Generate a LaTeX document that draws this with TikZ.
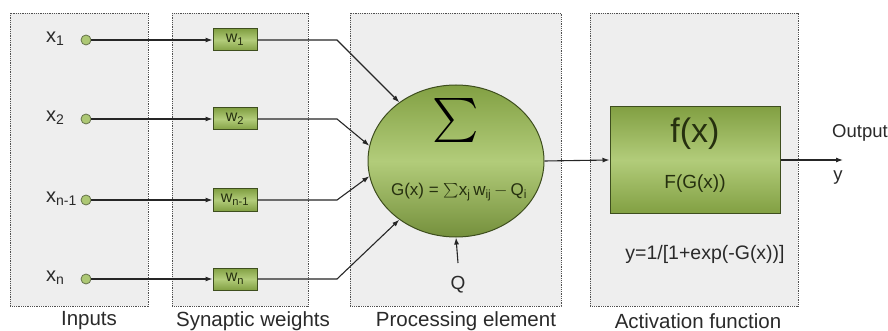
\documentclass[tikz,border=0pt]{standalone}
\usepackage{fontspec}
\usepackage{graphicx}
\setmainfont{Liberation Sans}
\usetikzlibrary{arrows.meta,shapes.geometric}
\definecolor{panel}{HTML}{EEEEEE}
\definecolor{dotc}{HTML}{505050}
\definecolor{gdark}{HTML}{82A043}
\definecolor{glight}{HTML}{B2CC7A}
\definecolor{gedge}{HTML}{3E4E1E}
\definecolor{txt}{HTML}{2A2A2A}
\definecolor{gtxt}{HTML}{26300F}
\tikzset{
  x=1pt, y=-1pt,
  panelbox/.style={fill=panel, draw=dotc, line width=0.9pt, dash pattern=on 0.9pt off 0.9pt},
  wbox/.style={draw=gedge, line width=1pt, top color=gdark, bottom color=gdark, middle color=glight,
    minimum width=44pt, minimum height=22pt, inner sep=0pt, text=gtxt, font=\fontsize{16}{16}\selectfont},
  inpt/.style={circle, draw=gedge!80, line width=0.8pt, fill=glight!90!gdark, minimum size=10pt, inner sep=0pt},
  xlab/.style={anchor=west, inner sep=0pt, text=txt, font=\fontsize{20}{20}\selectfont},
  caption/.style={inner sep=0pt, text=txt, font=\fontsize{20.5}{20.5}\selectfont},
  conn/.style={draw=black!85, line width=1.1pt},
  tip/.style={-{Latex[length=7pt,width=5pt]}},
}
\begin{document}
\begin{tikzpicture}
\useasboundingbox (0,0) rectangle (888,331);
\fill[white] (0,0) rectangle (888,331);
% panels
\draw[panelbox] (10,13) rectangle (148,306);
\draw[panelbox] (172,13) rectangle (308,306);
\draw[panelbox] (350,13) rectangle (561,306);
\draw[panelbox] (590,13) rectangle (798,306);
% captions
\node[caption] (capin) at (89,321) {Inputs};
\node[caption] (capsw) at (253,321) {Synaptic weights};
\node[caption] (cappe) at (466,321) {Processing element};
\node[caption] (capaf) at (698,321) {Activation function};
% inputs
\node[inpt] (i1) at (86,40) {};
\node[inpt] (i2) at (86,119) {};
\node[inpt] (i3) at (86,200) {};
\node[inpt] (i4) at (86,279) {};
\node[xlab] (l1) at (46,39) {x\textsubscript{1}};
\node[xlab] (l2) at (46,118) {x\textsubscript{2}};
\node[xlab] (l3) at (46,199) {x\textsubscript{n-1}};
\node[xlab] (l4) at (46,278) {x\textsubscript{n}};
% weights
\node[wbox] (w1) at (235,40) {w\textsubscript{1}};
\node[wbox] (w2) at (235,119) {w\textsubscript{2}};
\node[wbox] (w3) at (235,200) {w\textsubscript{n-1}};
\node[wbox] (w4) at (235,279) {w\textsubscript{n}};
% processing ellipse
\node[ellipse, draw=gedge, line width=1pt, top color=gdark, bottom color=gdark!90!black, middle color=glight,
  minimum width=176pt, minimum height=152pt, inner sep=0pt] (E) at (456,161) {};
\node[scale=4.4, text=black] (sig) at (456,121) {$\sum$};
\node[inner sep=0pt, text=gtxt, font=\fontsize{17}{17}\selectfont] (gx) at (459,192)
  {G(x) = \raisebox{-1pt}{\scalebox{1.45}{$\sum$}}x\textsubscript{j}\,w\textsubscript{ij}$\,-\,$Q\textsubscript{i}};
\node[inner sep=0pt, text=txt, font=\fontsize{19}{19}\selectfont] (Q) at (458,285) {Q};
% activation box
\node[draw=gedge, line width=1pt, top color=gdark, bottom color=gdark, middle color=glight,
  minimum width=170pt, minimum height=106pt, inner sep=0pt] (A) at (695,160) {};
\node[inner sep=0pt, text=gtxt, font=\fontsize{34}{34}\selectfont] (fx) at (695,134) {f(x)};
\node[inner sep=0pt, text=gtxt, font=\fontsize{19}{19}\selectfont] (FG) at (695,184) {F(G(x))};
\node[inner sep=0pt, text=txt, font=\fontsize{19.5}{19.5}\selectfont] (yeq) at (705,254) {y=1/[1+exp(-G(x))]};
\node[inner sep=0pt, text=txt, font=\fontsize{18.5}{18.5}\selectfont] (outl) at (860,133) {Output};
\node[inner sep=0pt, text=txt, font=\fontsize{18.5}{18.5}\selectfont] (yl) at (838,178) {y};
\coordinate (yend) at (843,160);
% bend points
\coordinate (b1) at (337,40);
\coordinate (b2) at (337,119);
\coordinate (b3) at (337,200);
\coordinate (b4) at (337,279);
\coordinate (qs) at (458,263);
% connectors
\draw[conn, tip] (i1) -- (w1);
\draw[conn, tip] (i2) -- (w2);
\draw[conn, tip] (i3) -- (w3);
\draw[conn, tip] (i4) -- (w4);
\draw[conn, tip] (w1.east) -- (b1) -- (E.134);
\draw[conn, tip] (w2.east) -- (b2) -- (E.170);
\draw[conn, tip] (w3.east) -- (b3) -- (E.190);
\draw[conn, tip] (w4.east) -- (b4) -- (E.226);
\draw[conn, tip] (qs) -- (E.south);
\draw[conn, tip] (E.east) -- (A.west);
\draw[conn, tip] (A.east) -- (yend);
\end{tikzpicture}
\end{document}
